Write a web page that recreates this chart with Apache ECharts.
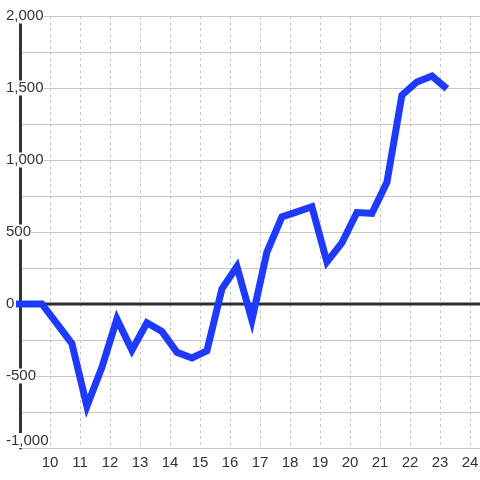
<!DOCTYPE html>
<html>
<head>
<meta charset="utf-8">
<script src="https://cdn.jsdelivr.net/npm/echarts@6/dist/echarts.min.js"></script>
<style>html,body{margin:0;padding:0;background:#fff}#c{width:480px;height:480px}</style>
</head>
<body>
<div id="c"></div>
<script>
const xValues = [8.73, 9.23, 9.73, 10.23, 10.73, 11.23, 11.73, 12.23, 12.73, 13.23, 13.73, 14.23, 14.73, 15.23, 15.73, 16.23, 16.73, 17.23, 17.73, 18.23, 18.73, 19.23, 19.73, 20.23, 20.73, 21.23, 21.73, 22.23, 22.73, 23.23];
const yValues = [0, 0, 0, -137, -275, -710, -440, -105, -320, -130, -190, -335, -375, -325, 105, 260, -112, 360, 605, 640, 675, 292, 425, 635, 630, 845, 1450, 1542, 1583, 1495];
const zeroLine = [[8, 0], [25, 0]];
const xRange = [9, 24.3333];
const yRange = [-1000, 2000];

const chart = echarts.init(document.getElementById('c'), null, {renderer: 'canvas'});
const font = '"Liberation Sans", Arial, sans-serif';
chart.setOption({
  animation: false,
  backgroundColor: '#fff',
  grid: {left: 20, right: 0, top: 16, bottom: 32, containLabel: false, outerBoundsMode: 'none'},
  xAxis: {
    type: 'value', min: xRange[0], max: xRange[1], interval: 1,
    axisLine: {show: false}, axisTick: {show: false},
    axisLabel: {
      color: '#333', fontSize: 15, fontFamily: font, margin: 7,
      formatter: v => (Math.abs(v - Math.round(v)) < 1e-6 && v >= 10) ? String(Math.round(v)) : ''
    },
    splitLine: {show: true, lineStyle: {color: '#c8c8c8', width: 1, type: [3, 3]}}
  },
  yAxis: {
    type: 'value', min: yRange[0], max: yRange[1], interval: 250,
    axisLine: {show: true, lineStyle: {color: '#333', width: 3}},
    axisTick: {show: false},
    axisLabel: {
      color: '#333', fontSize: 15, fontFamily: font, margin: 14, align: 'left',
      backgroundColor: '#fff', verticalAlignMinLabel: 'bottom',
      formatter: v => (v % 500 === 0) ? v.toLocaleString('en-US') : ''
    },
    splitLine: {show: true, lineStyle: {color: '#c8c8c8', width: 1}}
  },
  series: [
    {
      type: 'line', data: zeroLine, symbol: 'none', silent: true, z: 1,
      lineStyle: {color: '#2e2e2e', width: 3}
    },
    {
      type: 'line', data: xValues.map((x, i) => [x, yValues[i]]), symbol: 'none', z: 3,
      lineStyle: {color: '#1f3aff', width: 7, join: 'miter', cap: 'butt'}
    }
  ]
});
</script>
</body>
</html>
